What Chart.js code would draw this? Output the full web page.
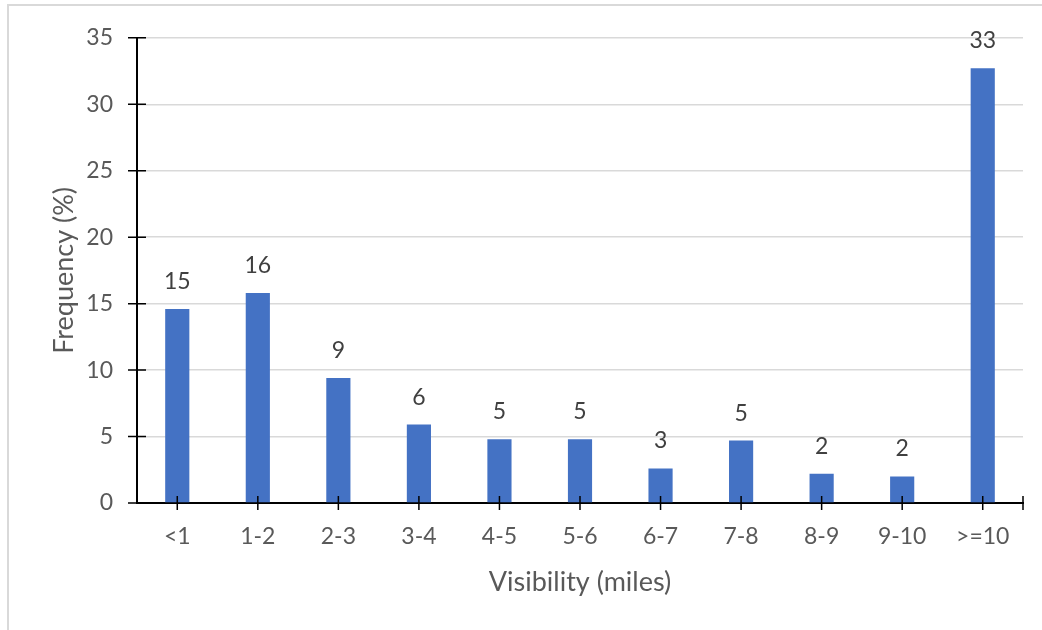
<!DOCTYPE html>
<html lang="en">
<head>
    <meta charset="UTF-8">
    <title>Visibility Frequency</title>
    <script src="https://cdn.jsdelivr.net/npm/chart.js"></script>
    <style>
        html, body { margin: 0; padding: 0; background: #fff; overflow: hidden; }
        .frame { position: absolute; left: 7px; top: 4px; width: 1100px; height: 700px; border: 2px solid #d9d9d9; box-sizing: border-box; }
        .wrap { position: absolute; left: 0; top: 0; width: 1042px; height: 630px; }
    </style>
</head>
<body>
    <div class="frame"></div>
    <div class="wrap"><canvas id="visChart"></canvas></div>

    <script>
        const categories = ['<1', '1-2', '2-3', '3-4', '4-5', '5-6', '6-7', '7-8', '8-9', '9-10', '>=10'];
        const frequency = [14.6, 15.8, 9.4, 5.9, 4.8, 4.8, 2.6, 4.7, 2.2, 2.0, 32.7];
        const yTicks = [0, 5, 10, 15, 20, 25, 30, 35];

        const textColor = '#595959';
        const fontFamily = 'Lato, "Open Sans", sans-serif';

        // Excel-style tick marks that cross the axis, plus the closing tick on the right
        const crossTicks = {
            id: 'crossTicks',
            afterDraw(chart) {
                const ctx = chart.ctx;
                const x = chart.scales.x, y = chart.scales.y;
                const area = chart.chartArea;
                ctx.save();
                ctx.strokeStyle = '#000';
                ctx.lineWidth = 1.5;
                ctx.beginPath();
                y.ticks.forEach((t, i) => {
                    const py = y.getPixelForTick(i);
                    ctx.moveTo(area.left - 9, py);
                    ctx.lineTo(area.left + 9, py);
                });
                x.ticks.forEach((t, i) => {
                    const px = x.getPixelForValue(i);
                    ctx.moveTo(px, area.bottom - 7);
                    ctx.lineTo(px, area.bottom + 7);
                });
                ctx.moveTo(area.right, area.bottom - 7);
                ctx.lineTo(area.right, area.bottom + 7);
                ctx.stroke();
                ctx.restore();
            }
        };

        const barLabels = {
            id: 'barLabels',
            afterDatasetsDraw(chart) {
                const ctx = chart.ctx;
                const meta = chart.getDatasetMeta(0);
                ctx.save();
                ctx.fillStyle = '#404040';
                ctx.font = '23px ' + fontFamily;
                ctx.textAlign = 'center';
                ctx.textBaseline = 'alphabetic';
                meta.data.forEach((bar, i) => {
                    ctx.fillText(String(Math.round(frequency[i])), bar.x, bar.y - 20);
                });
                ctx.restore();
            }
        };

        new Chart(document.getElementById('visChart'), {
            type: 'bar',
            data: {
                labels: categories,
                datasets: [{
                    data: frequency,
                    backgroundColor: '#4472C4',
                    borderWidth: 0,
                    categoryPercentage: 1,
                    barPercentage: 0.3
                }]
            },
            options: {
                responsive: true,
                maintainAspectRatio: false,
                animation: false,
                layout: { padding: { left: 0, right: 19, top: 34, bottom: 0 } },
                plugins: {
                    legend: { display: false },
                    tooltip: { enabled: false }
                },
                scales: {
                    x: {
                        offset: true,
                        grid: { offset: false, drawOnChartArea: false, drawTicks: false },
                        border: { color: '#000', width: 2 },
                        ticks: { color: textColor, font: { family: fontFamily, size: 23 }, padding: 20, maxRotation: 0 },
                        title: { display: true, text: 'Visibility (miles)', color: textColor, font: { family: fontFamily, size: 27 }, padding: { top: 0, bottom: 32 } },
                        afterFit(scale) { scale.height = 127; }
                    },
                    y: {
                        min: 0,
                        max: 35,
                        afterBuildTicks(scale) { scale.ticks = yTicks.map(v => ({ value: v })); },
                        grid: { color: '#d9d9d9', lineWidth: 1.5, drawTicks: false },
                        border: { color: '#000', width: 2 },
                        ticks: { color: textColor, font: { family: fontFamily, size: 23 }, padding: 24 },
                        title: { display: true, text: 'Frequency (%)', color: textColor, font: { family: fontFamily, size: 27 }, padding: { top: 48, bottom: 0 } },
                        afterFit(scale) { scale.width = 137; }
                    }
                }
            },
            plugins: [crossTicks, barLabels]
        });
    </script>
</body>
</html>
